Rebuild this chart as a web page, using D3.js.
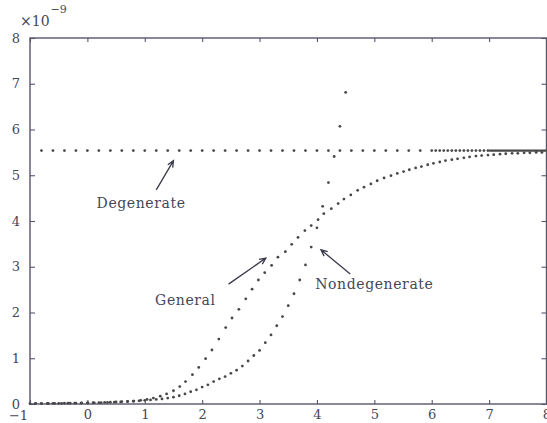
<!DOCTYPE html>
<html>
<head>
<meta charset="utf-8">
<script src="https://cdn.jsdelivr.net/npm/d3@7"></script>
<style>
  body { margin: 0; background: #ffffff; }
  svg { display: block; }
</style>
</head>
<body>
<svg id="chart" width="547" height="423"></svg>
<script>
// ---- data (values in units of 1e-9) ----
const xTicks = [-1, 0, 1, 2, 3, 4, 5, 6, 7, 8];
const yTicks = [0, 1, 2, 3, 4, 5, 6, 7, 8];
const exponentBase = "\u00d710";
const exponentPower = "\u22129";

// general solution
const generalX = [
  -0.91, -0.80, -0.68, -0.57, -0.45, -0.34, -0.22, -0.11, 0.01, 0.12, 0.24,
  0.35, 0.47, 0.58, 0.70, 0.81, 0.93, 1.04, 1.15, 1.27, 1.38, 1.50,
  1.61, 1.71, 1.83, 1.94, 2.06, 2.17, 2.29, 2.41, 2.52, 2.64,
  2.76, 2.87, 2.98, 3.09, 3.21, 3.32, 3.45, 3.56, 3.67, 3.79,
  3.90, 4.02, 4.12, 4.25, 4.37, 4.47, 4.59, 4.71, 4.82, 4.94,
  5.05, 5.17, 5.29, 5.40,
  5.51, 5.61, 5.72, 5.82, 5.93, 6.03, 6.14, 6.24, 6.35, 6.45,
  6.56, 6.66, 6.77, 6.87, 6.98, 7.08, 7.19, 7.29, 7.40, 7.50,
  7.61, 7.71, 7.82, 7.92
];
const generalY = [
  0.009, 0.010, 0.011, 0.012, 0.014, 0.016, 0.018, 0.020, 0.022, 0.025, 0.030,
  0.035, 0.040, 0.045, 0.055, 0.065, 0.080, 0.100, 0.130, 0.170, 0.220, 0.290,
  0.38, 0.49, 0.64, 0.80, 0.99, 1.18, 1.42, 1.67, 1.88, 2.07,
  2.30, 2.51, 2.71, 2.87, 3.03, 3.21, 3.33, 3.49, 3.64, 3.79,
  3.90, 4.03, 4.16, 4.27, 4.38, 4.48, 4.57, 4.67, 4.74, 4.81,
  4.88, 4.94, 4.99, 5.04,
  5.08, 5.12, 5.16, 5.19, 5.23, 5.26, 5.29, 5.32, 5.34, 5.36,
  5.38, 5.40, 5.42, 5.43, 5.44, 5.45, 5.46, 5.47, 5.48, 5.48,
  5.49, 5.49, 5.50, 5.50
];

// nondegenerate approximation
const nondegX = [
  -1.0, -0.9, -0.8, -0.7, -0.6, -0.5, -0.4, -0.3, -0.2, -0.1,
  0.0, 0.1, 0.2, 0.3, 0.4, 0.5, 0.6, 0.7, 0.8, 0.9,
  1.0, 1.1, 1.2, 1.3, 1.4, 1.5, 1.6, 1.7, 1.8, 1.9,
  2.0, 2.1, 2.2, 2.3, 2.4, 2.5, 2.6, 2.7, 2.8, 2.9,
  3.0, 3.1, 3.2, 3.3, 3.4, 3.5, 3.6, 3.7, 3.8, 3.9,
  4.0, 4.1, 4.2, 4.3, 4.4, 4.5
];
const nondegY = [
  0.010, 0.011, 0.012, 0.013, 0.014, 0.015, 0.016, 0.018, 0.020, 0.022,
  0.025, 0.028, 0.030, 0.035, 0.040, 0.045, 0.050, 0.055, 0.060, 0.070,
  0.080, 0.090, 0.100, 0.110, 0.130, 0.150, 0.180, 0.220, 0.270, 0.310,
  0.37, 0.42, 0.49, 0.55, 0.60, 0.67, 0.74, 0.83, 0.94, 1.06,
  1.17, 1.34, 1.51, 1.71, 1.91, 2.15, 2.41, 2.71, 3.04, 3.43,
  3.85, 4.32, 4.84, 5.41, 6.07, 6.81
];

// degenerate limit (constant level)
const degenerateLevel = 5.54;
const degenerateX = [
  -0.8, -0.6, -0.4, -0.2, 0.0, 0.2, 0.4, 0.6, 0.8, 1.0,
  1.2, 1.4, 1.6, 1.8, 2.0, 2.2, 2.4, 2.6, 2.8, 3.0,
  3.2, 3.4, 3.6, 3.8, 4.0, 4.2, 4.4, 4.6, 4.8, 5.0,
  5.2, 5.4, 5.6, 5.8,
  6.00, 6.07, 6.14, 6.21, 6.28, 6.35, 6.42, 6.49, 6.56, 6.63,
  6.70, 6.77, 6.84, 6.91, 6.98
];
const degenerateSolidX = [7.0, 8.0];

// annotations: [label, textX, textY, arrowFromX, arrowFromY, arrowToX, arrowToY]
const annotations = [
  ["Degenerate", 0.16, 4.28, 1.20, 4.68, 1.50, 5.32],
  ["General", 1.18, 2.16, 2.46, 2.62, 3.11, 3.19],
  ["Nondegenerate", 3.97, 2.51, 4.58, 2.84, 4.07, 3.37]
];

// ---- layout ----
const svg = d3.select("#chart");
const plot = { left: 30, right: 546.5, top: 38, bottom: 404 };
const x = d3.scaleLinear().domain([-1, 8]).range([plot.left, plot.right]);
const y = d3.scaleLinear().domain([0, 8]).range([plot.bottom, plot.top]);

const axisColor = "#56566f";
const textColor = "#44465a";
const dotColor = "#474747";
const tickFont = "'DejaVu Serif', serif";

// frame
svg.append("rect")
  .attr("x", plot.left).attr("y", plot.top)
  .attr("width", plot.right - plot.left).attr("height", plot.bottom - plot.top)
  .attr("fill", "none").attr("stroke", axisColor).attr("stroke-width", 1.4);

function styleAxis(g) {
  g.select(".domain").remove();
  g.selectAll(".tick line").attr("stroke", axisColor).attr("stroke-width", 1.1);
  g.selectAll(".tick text")
    .attr("fill", textColor)
    .style("font-family", tickFont)
    .style("font-size", "13px");
}

const xAxis = svg.append("g")
  .attr("transform", `translate(0,${plot.bottom})`)
  .call(d3.axisBottom(x).tickValues(xTicks).tickSize(-4).tickPadding(6)
    .tickFormat(d => d < 0 ? "\u2212" + Math.abs(d) : String(d)))
  .call(styleAxis);
// leftmost label sits left of its tick
xAxis.selectAll(".tick text").filter(d => d === -1).attr("x", -12).attr("dy", "0.78em");

svg.append("g")
  .attr("transform", `translate(0,${plot.top})`)
  .call(d3.axisTop(x).tickValues(xTicks).tickSize(-4).tickFormat(""))
  .call(styleAxis);

svg.append("g")
  .attr("transform", `translate(${plot.left},0)`)
  .call(d3.axisLeft(y).tickValues(yTicks).tickSize(-5).tickPadding(10))
  .call(styleAxis);

svg.append("g")
  .attr("transform", `translate(${plot.right},0)`)
  .call(d3.axisRight(y).tickValues(yTicks).tickSize(-5).tickFormat(""))
  .call(styleAxis);

// exponent label
const expText = svg.append("text")
  .attr("x", 20).attr("y", 26)
  .attr("fill", textColor)
  .style("font-family", tickFont)
  .style("font-size", "14px")
  .text(exponentBase);
expText.append("tspan")
  .attr("dy", -13).attr("dx", 1)
  .style("font-size", "11px")
  .text(exponentPower);

// ---- series ----
const dots = svg.append("g").attr("fill", dotColor);

dots.selectAll("circle.deg")
  .data(degenerateX)
  .join("circle").attr("class", "deg")
  .attr("cx", d => x(d)).attr("cy", y(degenerateLevel)).attr("r", 1.4);

svg.append("line")
  .attr("x1", x(degenerateSolidX[0])).attr("x2", x(degenerateSolidX[1]))
  .attr("y1", y(degenerateLevel)).attr("y2", y(degenerateLevel))
  .attr("stroke", dotColor).attr("stroke-width", 2.2);

dots.selectAll("circle.gen")
  .data(generalX.map((v, i) => [v, generalY[i]]))
  .join("circle").attr("class", "gen")
  .attr("cx", d => x(d[0])).attr("cy", d => y(d[1])).attr("r", 1.4);

dots.selectAll("circle.nd")
  .data(nondegX.map((v, i) => [v, nondegY[i]]))
  .join("circle").attr("class", "nd")
  .attr("cx", d => x(d[0])).attr("cy", d => y(d[1])).attr("r", 1.4);

// ---- annotations ----
const ann = svg.append("g");
annotations.forEach(([label, tx, ty, fx, fy, ax, ay]) => {
  ann.append("text")
    .attr("x", x(tx)).attr("y", y(ty))
    .attr("fill", textColor)
    .style("font-family", tickFont)
    .style("font-size", "14px")
    .style("letter-spacing", "0.6px")
    .text(label);

  const x1 = x(fx), y1 = y(fy), x2 = x(ax), y2 = y(ay);
  const ang = Math.atan2(y2 - y1, x2 - x1);
  const head = 7, spread = 0.42;
  const p = d3.path();
  p.moveTo(x1, y1); p.lineTo(x2, y2);
  p.moveTo(x2 - head * Math.cos(ang - spread), y2 - head * Math.sin(ang - spread));
  p.lineTo(x2, y2);
  p.lineTo(x2 - head * Math.cos(ang + spread), y2 - head * Math.sin(ang + spread));
  ann.append("path")
    .attr("d", p.toString())
    .attr("fill", "none")
    .attr("stroke", "#3a3a4a")
    .attr("stroke-width", 1.3);
});
</script>
</body>
</html>
